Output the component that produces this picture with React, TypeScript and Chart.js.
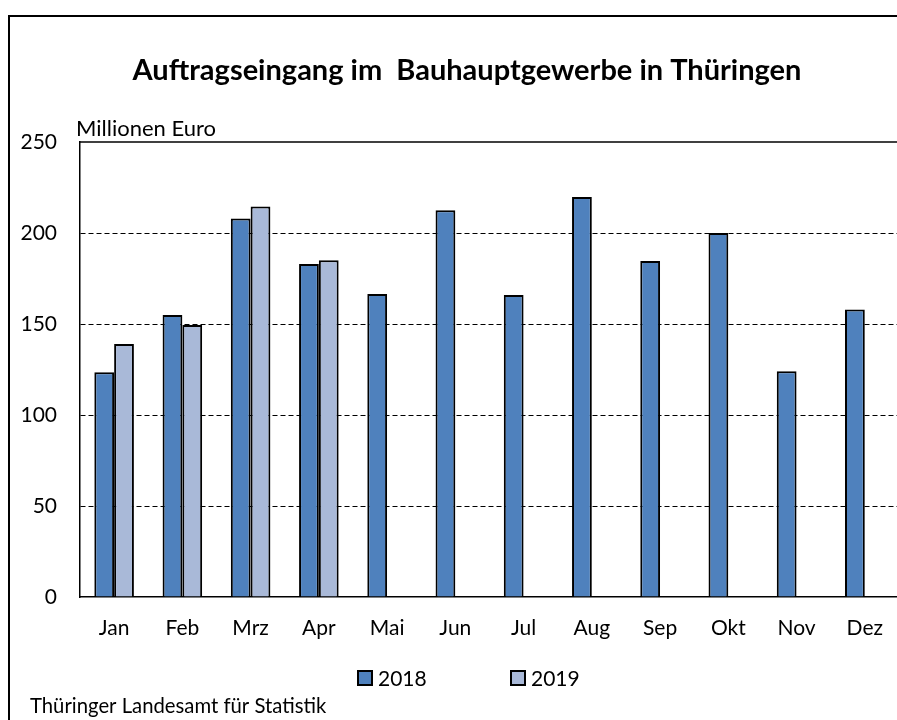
import React, { useEffect, useRef } from "react";
import { Chart, registerables } from "chart.js";

Chart.register(...registerables);

const months = ["Jan", "Feb", "Mrz", "Apr", "Mai", "Jun", "Jul", "Aug", "Sep", "Okt", "Nov", "Dez"];
const values2018 = [123.5, 155, 208, 183, 166.5, 212.5, 166, 219.8, 184.6, 200, 124, 158];
const values2019: (number | null)[] = [139, 149.5, 214.5, 185, null, null, null, null, null, null, null, null];
const yTicks = [0, 50, 100, 150, 200, 250];

const titleText = "Auftragseingang im  Bauhauptgewerbe in Thüringen";
const unitText = "Millionen Euro";
const sourceText = "Thüringer Landesamt für Statistik";

const FONT = "Lato, 'Open Sans', sans-serif";
const COLOR_2018 = "#4F81BD";
const COLOR_2019 = "#A9B9D8";

const decorPlugin = {
  id: "decor",
  beforeDraw(chart: any) {
    const ctx = chart.ctx;
    ctx.save();
    ctx.fillStyle = "#ffffff";
    ctx.fillRect(0, 0, chart.width, chart.height);
    ctx.strokeStyle = "#000";
    ctx.lineWidth = 2;
    ctx.strokeRect(9, 16, chart.width + 40, chart.height + 40);
    ctx.restore();
  },
  afterDraw(chart: any) {
    const ctx = chart.ctx;
    const area = chart.chartArea;
    ctx.save();
    ctx.fillStyle = "#000";
    // title
    ctx.font = `bold 29px ${FONT}`;
    ctx.textAlign = "center";
    ctx.textBaseline = "alphabetic";
    ctx.fillText(titleText, 467, 80);
    // unit label
    ctx.font = `22px ${FONT}`;
    ctx.textAlign = "left";
    ctx.fillText(unitText, 76, 136);
    // source
    ctx.font = `20.3px ${FONT}`;
    ctx.fillText(sourceText, 30, 713);
    // legend
    const items = chart.data.datasets.map((d: any) => ({ label: d.label, color: d.backgroundColor }));
    const xs = [358, 511];
    ctx.font = `21px ${FONT}`;
    ctx.textBaseline = "middle";
    items.forEach((it: any, i: number) => {
      const x = xs[i];
      const y = 671;
      ctx.fillStyle = it.color;
      ctx.fillRect(x, y, 14, 14);
      ctx.strokeStyle = "#000";
      ctx.lineWidth = 2;
      ctx.strokeRect(x, y, 14, 14);
      ctx.fillStyle = "#000";
      ctx.fillText(it.label, x + 20, y + 8);
    });
    // top solid line
    ctx.strokeStyle = "#000";
    ctx.lineWidth = 1.5;
    ctx.beginPath();
    ctx.moveTo(area.left, area.top);
    ctx.lineTo(area.right, area.top);
    ctx.stroke();
    ctx.restore();
  },
};

export default function App() {
  const ref = useRef<HTMLCanvasElement | null>(null);
  useEffect(() => {
    if (!ref.current) return;
    const chart = new Chart(ref.current, {
      type: "bar",
      data: {
        labels: months,
        datasets: [
          {
            label: "2018",
            data: values2018,
            backgroundColor: COLOR_2018,
            borderColor: "#000",
            borderWidth: 2,
            categoryPercentage: 0.58,
            barPercentage: 1.0,
          },
          {
            label: "2019",
            data: values2019,
            backgroundColor: COLOR_2019,
            borderColor: "#000",
            borderWidth: 2,
            categoryPercentage: 0.58,
            barPercentage: 1.0,
          },
        ],
      },
      options: {
        responsive: false,
        animation: false,
        layout: { padding: { left: 8, right: 0, top: 142, bottom: 73 } },
        plugins: {
          legend: { display: false },
          tooltip: { enabled: false },
          title: { display: false },
        },
        scales: {
          x: {
            grid: { display: false, drawTicks: false },
            border: { display: true, color: "#000", width: 1.5 },
            ticks: { color: "#000", font: { family: FONT, size: 21 }, padding: 19 },
            afterFit: (s: any) => {
              s.height = 50;
            },
          },
          y: {
            min: 0,
            max: 250,
            afterBuildTicks: (s: any) => {
              s.ticks = yTicks.map((v) => ({ value: v }));
            },
            grid: {
              drawTicks: false,
              color: (c: any) => (c.tick && (c.tick.value === 0 || c.tick.value === 250) ? "rgba(0,0,0,0)" : "#000"),
              lineWidth: 1,
            },
            border: { display: true, color: "#000", width: 1.5, dash: (c: any) => (c.tick ? [5, 3] : []) } as any,
            ticks: { color: "#000", font: { family: FONT, size: 21 }, padding: 23 },
            afterFit: (s: any) => {
              s.width = 72;
            },
          },
        },
      },
      plugins: [decorPlugin],
    });
    return () => chart.destroy();
  }, []);
  return (
    <div style={{ position: "fixed", left: 0, top: 0, width: 897, height: 720, overflow: "hidden" }}>
      <canvas ref={ref} width={902} height={720} style={{ width: 902, height: 720, display: "block" }} />
    </div>
  );
}
